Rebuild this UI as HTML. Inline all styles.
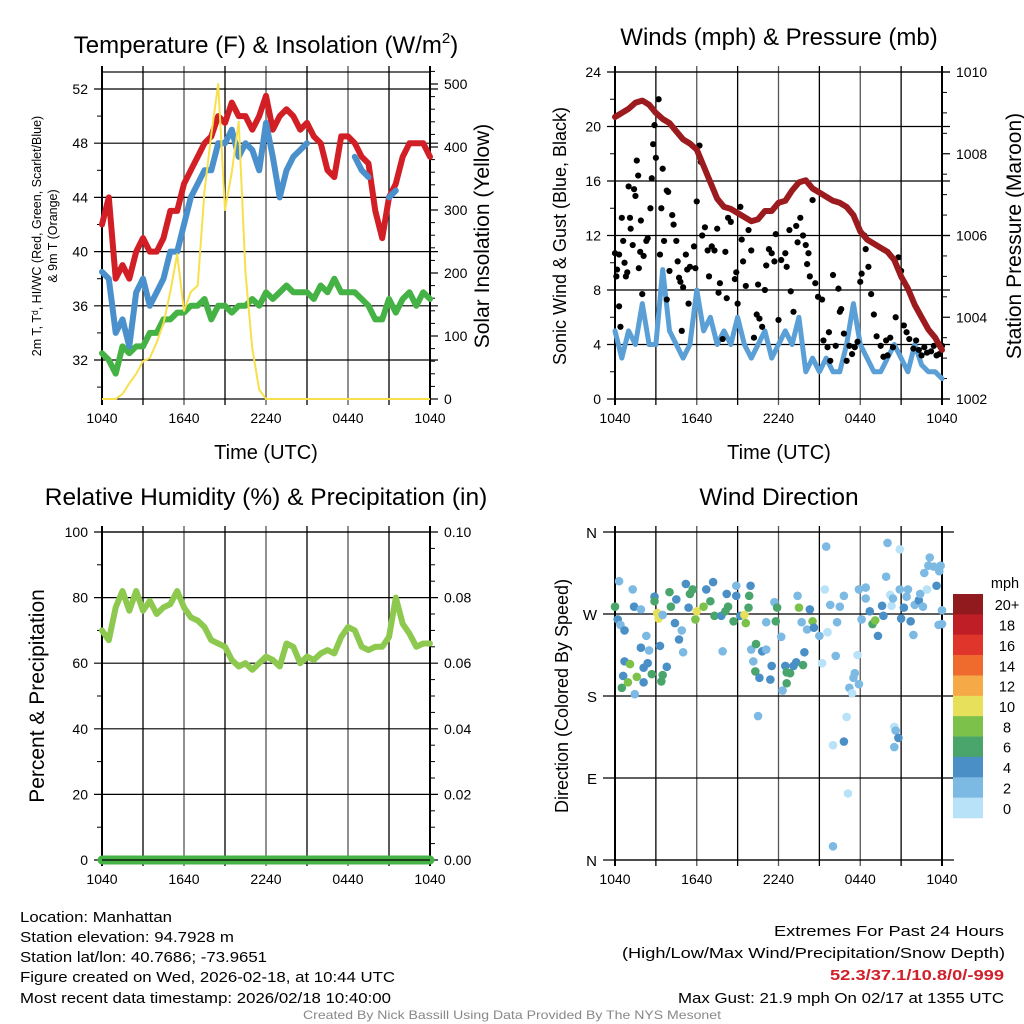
<!DOCTYPE html>
<html><head><meta charset="utf-8"><style>
html,body{margin:0;padding:0;background:#fff;}
svg{display:block;font-family:"Liberation Sans",sans-serif;}
</style></head><body>
<svg id="fig" width="1024" height="1024" viewBox="0 0 1024 1024" xmlns="http://www.w3.org/2000/svg">
<rect x="0" y="0" width="1024" height="1024" fill="#fff"/>
<g id="p1"></g>
<g id="p2"></g>
<g id="p3"></g>
<g id="p4"></g>
<g font-size="15" fill="#000">
<text x="20" y="922" textLength="152" lengthAdjust="spacingAndGlyphs">Location: Manhattan</text>
<text x="20" y="942" textLength="214" lengthAdjust="spacingAndGlyphs">Station elevation: 94.7928 m</text>
<text x="20" y="962" textLength="247" lengthAdjust="spacingAndGlyphs">Station lat/lon: 40.7686; -73.9651</text>
<text x="20" y="982" textLength="375" lengthAdjust="spacingAndGlyphs">Figure created on Wed, 2026-02-18, at 10:44 UTC</text>
<text x="20" y="1003" textLength="371" lengthAdjust="spacingAndGlyphs">Most recent data timestamp: 2026/02/18 10:40:00</text>
<text x="774" y="936" textLength="230" lengthAdjust="spacingAndGlyphs">Extremes For Past 24 Hours</text>
<text x="622" y="958" textLength="383" lengthAdjust="spacingAndGlyphs">(High/Low/Max Wind/Precipitation/Snow Depth)</text>
<text x="830" y="980" textLength="174" lengthAdjust="spacingAndGlyphs" fill="#d0202a" font-weight="bold">52.3/37.1/10.8/0/-999</text>
<text x="678" y="1003" textLength="326" lengthAdjust="spacingAndGlyphs">Max Gust: 21.9 mph On 02/17 at 1355 UTC</text>
<text x="303" y="1019" font-size="12" fill="#888" textLength="418" lengthAdjust="spacingAndGlyphs">Created By Nick Bassill Using Data Provided By The NYS Mesonet</text>
</g>
</svg>
<script>
// ---------- data ----------
var timeLabels = ["1040","1640","2240","0440","1040"];
var hours = [0,0.5,1,1.5,2,2.5,3,3.5,4,4.5,5,5.5,6,6.5,7,7.5,8,8.5,9,9.5,10,10.5,11,11.5,12,12.5,13,13.5,14,14.5,15,15.5,16,16.5,17,17.5,18,18.5,19,19.5,20,20.5,21,21.5,22,22.5,23,23.5,24];
var tempRed = [42,44,38,39,38,40,41,40,40,41,43,43,45,46,47,48,48.5,50,49.5,51,50,50,49,50,51.5,49,50,50.5,50,49,49.5,48.5,48,46,45.5,48.5,48.5,48,47,46.5,43,41,44,45,47,48,48,48,47];
var tempBlue = [38.5,38,34,35,33,37,38,36,37,38,40,40,42,44,45,46,46,48,48,49,47,48,47.5,46,49.5,47,44,46,47,47.5,48,null,null,null,null,null,null,47,46,45.5,null,null,44,44.5,null,null,null,null,null];
var tempGreen = [32.5,32,31,33,32.5,33,33,34,34,35,35,35.5,35.5,36,36,36.5,35,36,36,35.5,36,36,36.5,36,37,36.5,37,37.5,37,37,37,36.5,37.5,37,38,37,37,37,36.5,36,35,35,36.5,35.5,36.5,37,36,37,36.5];
var insolation = [0,0,0,8,25,40,60,65,90,120,170,230,140,170,180,330,420,500,300,360,440,200,80,15,0,0,0,0,0,0,0,0,0,0,0,0,0,0,0,0,0,0,0,0,0,0,0,0,0];
var windSpeed = [5,3,5,4,7,4,4,9.5,5,4,3,4,8,5,6,4,5,4,6,4,3,4,5,3,4,5,4,6,2,3,2,3,2,2,4,7,4,3,2,2,3,4,3,2,4,2.5,2,2,1.5];
var pressure = [1008.9,1009.0,1009.1,1009.25,1009.3,1009.2,1009.0,1008.85,1008.75,1008.55,1008.35,1008.25,1008.1,1007.7,1007.3,1006.9,1006.7,1006.65,1006.55,1006.45,1006.35,1006.4,1006.6,1006.6,1006.8,1006.85,1007.1,1007.3,1007.35,1007.15,1007.05,1006.95,1006.85,1006.8,1006.7,1006.5,1006.1,1005.9,1005.8,1005.7,1005.6,1005.4,1005.0,1004.7,1004.3,1004.0,1003.7,1003.5,1003.2];
var gustT = [0,0.1,0.15,0.3,0.3,0.4,0.5,0.6,0.7,0.8,0.9,1.0,1.1,1.15,1.3,1.4,1.5,1.6,1.7,1.75,1.9,1.85,2.0,2.1,2.3,2.4,2.6,2.7,2.8,2.9,3.0,3.2,3.3,3.4,3.5,3.6,3.8,3.9,3.8,4.0,4.2,4.3,4.5,4.6,4.7,4.8,4.9,5.0,5.2,5.3,5.4,5.5,5.8,5.9,6.0,6.2,6.3,6.4,6.6,6.8,6.9,7.1,7.3,7.5,7.6,7.7,7.9,8.1,8.2,8.3,8.5,8.8,8.9,9.0,9.2,9.3,9.4,9.6,9.8,10.0,10.2,10.4,10.5,10.6,10.8,11.0,11.1,11.3,11.5,11.7,11.8,12.0,12.2,12.5,12.6,12.8,12.9,13.1,13.3,13.4,13.6,13.8,14.0,14.1,14.2,14.3,14.5,14.7,14.9,15.2,15.3,15.6,15.7,15.8,16.0,16.2,16.4,16.5,16.6,16.8,17.0,17.2,17.4,17.6,17.8,18.0,18.1,18.3,18.4,18.6,18.8,19.0,19.2,19.5,19.7,19.9,20.0,20.2,20.4,20.6,20.8,21.0,21.2,21.4,21.6,21.9,22.1,22.3,22.5,22.7,22.9,23.2,23.4,23.6,23.8,24.0];
var gustV = [10.7,9,9.5,10.6,6.8,5.3,13.3,11.6,10,9,9.3,15.6,13.3,12.5,11.3,15.4,14.9,17.5,16.4,9.6,13.1,10.8,7.7,10.5,11.6,11.8,14,16.2,18.7,20.1,17.7,22,10.6,14,16.9,11.6,15.3,15.2,7.3,9.4,13.5,12.8,11.6,10.1,8.9,8.6,5,8.2,10.6,9.5,7,9.7,11.2,9.6,14.5,18.6,17.4,12,12.6,10.9,9,11.2,10.9,12.5,7.8,8.5,4.4,10.8,7.4,13.3,13,8.8,9.3,7,14.1,11.7,10.1,8.3,12.4,10.9,4.5,6.2,8.4,5.9,5.3,8,9.8,11,10.7,10.1,12.1,5.8,10.2,10.7,9.7,12.4,7.9,6.4,12.7,11.5,13.3,12,11.3,9.9,10.7,9,14.6,8.5,7.5,7.3,4.3,3.8,4.9,2.8,9.1,3.9,8.1,6.4,6.6,4.8,2.8,3.9,3.3,3.8,4.2,8.6,9.2,12,11,9.7,7.7,6.2,4.6,3.9,3.1,4.3,3.2,4.5,3.8,6,10.4,9.4,5.4,4.9,4.4,3.7,4.3,3.6,3.2,3.8,3.4,3.5,3.9,3.2,3.3,3.9];
var rh = [70,67,77,82,76,82,76,79,75,77,78,82,77,74,73,71,67,66,65,61,59,60,58,60,62,61,59,66,65,60,62,61,63,64,63,68,71,70,65,64,65,65,68,80,72,69,65,66,66];
var precip = [0,0,0,0,0,0,0,0,0,0,0,0,0,0,0,0,0,0,0,0,0,0,0,0,0,0,0,0,0,0,0,0,0,0,0,0,0,0,0,0,0,0,0,0,0,0,0,0,0];
var dirT = [0,0.3,0.2,0.4,0.7,0.7,0.6,0.5,1.1,0.95,1.6,1.45,1.3,1.4,1.9,1.9,2.1,2.3,2.4,2.1,2.5,2.7,2.9,2.9,3.1,3.2,3.3,3.4,3.5,3.8,3.5,4.0,4.1,4.4,4.5,4.7,4.9,5.0,5.2,5.5,5.7,5.4,5.9,6.0,6.5,6.7,7.0,7.2,7.3,7.9,7.8,8.1,8.3,8.2,8.7,8.9,8.9,9.2,9.5,9.6,9.85,9.95,9.8,10.0,10.35,10.3,10.15,10.6,10.5,10.8,11.1,11.4,11.5,11.1,11.7,11.9,11.8,12.2,12.3,12.5,12.6,12.6,12.85,13.1,13.3,13.8,13.9,13.4,13.5,13.7,14.1,14.3,14.5,14.6,15.0,15.2,15.5,15.4,15.6,15.8,16.2,16.3,16.0,16.5,16.8,16.8,17.0,17.1,16.0,17.2,17.4,17.5,17.6,17.8,17.9,17.9,18.1,18.4,18.4,18.7,18.9,19.1,19.3,19.6,19.7,20.0,19.9,20.2,20.3,20.4,20.5,20.6,20.8,20.5,20.9,20.9,21.0,21.2,21.4,21.5,21.7,21.9,22.0,22.3,22.4,22.6,22.7,22.9,23.0,23.1,23.4,23.6,23.75,23.8,23.9,24.0,23.75,24.0];
var dirDeg = [278,306,264,258,252,218,202,189,215,195,201,182,297,278,275,233,211,246,216,195,230,204,289,284,271,265,235,196,203,212,269,294,278,260,286,242,252,228,303,292,297,277,264,273,278,297,284,305,268,229,268,273,278,292,262,301,290,268,269,260,290,301,277,231,237,207,218,200,158,229,231,198,213,261,283,277,262,245,186,213,206,194,205,213,217,214,228,290,277,261,253,275,262,255,246,216,344,297,250,280,224,261,126,278,290,130,157,73,15,189,183,200,205,225,193,297,264,299,287,273,259,263,246,279,268,348,311,291,279,287,146,142,134,124,341,297,265,277,289,297,262,247,280,285,292,278,315,297,323,332,322,301,320,317,323,274,258,259];
var dirSpd = [6,2,4,3,4,4,4,6,8,8,8,2,2,4,2,4,4,2,4,4,2,6,4,6,10,10,4,6,6,4,2,6,6,4,4,4,2,2,4,6,6,4,8,10,8,4,6,4,6,2,4,6,6,4,6,2,4,4,10,8,6,4,6,2,6,6,2,4,2,4,2,4,4,2,2,6,6,2,2,4,6,6,6,4,4,6,4,2,8,2,2,4,8,4,2,1,2,1,1,2,2,2,1,2,2,4,1,1,2,2,1,2,2,1,2,2,2,2,2,4,6,8,4,4,4,2,2,1,1,2,1,2,4,2,1,2,4,4,2,2,4,2,2,4,2,2,2,1,2,2,2,4,2,2,2,2,2,2];
var speedBins = ["0","2","4","6","8","10","12","14","16","18","20+"];
var binColors = ["#b8e2f7","#7cb9e3","#4a8fc6","#4aa56c","#7cc24a","#e6e05a","#f6a947","#ef6a2d","#e0352b","#c01e27","#901a1e"];

var NS = "http://www.w3.org/2000/svg";
function mk(parent, tag, attrs, txt){
  var e = document.createElementNS(NS, tag);
  for (var k in attrs) e.setAttribute(k, attrs[k]);
  if (txt !== undefined) e.textContent = txt;
  parent.appendChild(e);
  return e;
}
function scale(d0,d1,r0,r1){ return function(v){ return r0 + (v-d0)/(d1-d0)*(r1-r0); }; }

function frame(g, L, R, T, B, tickX, xs){
  var el;
  for (var h=3; h<24; h+=3){
    el = mk(g,'line',{x1:xs(h),x2:xs(h),y1:T-6,y2:B+6,stroke:(h%6===0?'#555':'#000'),'stroke-width':1.3});
    
    
  }
  el = mk(g,'rect',{x:L,y:T,width:R-L,height:B-T,fill:'none',stroke:'#000','stroke-width':1.2});
  
  
  el = mk(g,'line',{x1:L,x2:L,y1:T-6,y2:B+6,stroke:'#000','stroke-width':2});
  
  
  el = mk(g,'line',{x1:R,x2:R,y1:T-6,y2:B+6,stroke:'#000','stroke-width':2});
  
  
  for (var i=0;i<timeLabels.length;i++){
    var x = xs(i*6);
    el = mk(g,'text',{x:x,y:B+24,'font-size':14,'text-anchor':'middle'},timeLabels[i]);
    
    
  }
}
function hline(g,L,R,y,ext){
  var el = mk(g,'line',{x1:L-ext,x2:R+ext,y1:y,y2:y,stroke:'#000','stroke-width':1.2});
  
  
}
function pathFrom(xsArr, ys, xs, yf){
  var d='', pen=false;
  for (var i=0;i<ys.length;i++){
    if (ys[i]===null){ pen=false; continue; }
    d += (pen?'L':'M') + xs(xsArr[i]).toFixed(1) + ',' + yf(ys[i]).toFixed(1);
    pen=true;
  }
  return d;
}
function txt(g, attrs, s, name){
  var el = mk(g,'text',attrs,s);
  
  
  return el;
}

// ---------- Panel 1 ----------
(function(){
  var g = document.getElementById('p1');
  var L=102,R=430,T=72,B=399;
  var xs = scale(0,24,L,R);
  var yT = scale(32,52,360,89);
  var yS = scale(0,500,399,84);
  frame(g,L,R,T,B,timeLabels,xs);
  for (var v=32; v<=52; v+=4){
    hline(g,L,R,yT(v),8);
    txt(g,{x:L-14,y:yT(v)+5,'font-size':14,'text-anchor':'end'},String(v),'left-tick-label');
  }
  for (var v2=30; v2<=53; v2+=2){ if (v2%4!==0){ var e=mk(g,'line',{x1:L-5,x2:L,y1:yT(v2),y2:yT(v2),stroke:'#000'});   } }
  for (var s=0; s<=500; s+=100){
    var e2=mk(g,'line',{x1:R,x2:R+8,y1:yS(s),y2:yS(s),stroke:'#000','stroke-width':1.2});
    
    
    txt(g,{x:R+14,y:yS(s)+5,'font-size':14},String(s),'right-tick-label');
  }
  for (var s2=20; s2<=520; s2+=20){ if (s2%100!==0){ var e3=mk(g,'line',{x1:R,x2:R+5,y1:yS(s2),y2:yS(s2),stroke:'#000'});   } }
  var el;
  el = mk(g,'path',{d:pathFrom(hours,tempGreen,xs,yT),fill:'none',stroke:'#44b244','stroke-width':6,'stroke-linejoin':'round','stroke-linecap':'round'});
  
  
  el = mk(g,'path',{d:pathFrom(hours,tempRed,xs,yT),fill:'none',stroke:'#d21f26','stroke-width':6,'stroke-linejoin':'round','stroke-linecap':'round'});
  
  
  el = mk(g,'path',{d:pathFrom(hours,tempBlue,xs,yT),fill:'none',stroke:'#4a90cc','stroke-width':6,'stroke-linejoin':'round','stroke-linecap':'round'});
  
  
  el = mk(g,'path',{d:pathFrom(hours,insolation,xs,yS),fill:'none',stroke:'#f7e04b','stroke-width':2,'stroke-linejoin':'round'});
  
  
  var t = txt(g,{x:266,y:53,'font-size':24,'text-anchor':'middle'},'Temperature (F) & Insolation (W/m','panel-title');
  var sup = mk(t,'tspan',{'font-size':15,dy:-10},'2');
  
  
  var close = mk(t,'tspan',{dy:10},')');
  
  
  txt(g,{x:266,y:459,'font-size':20,'text-anchor':'middle'},'Time (UTC)','x-axis-title');
  txt(g,{x:0,y:0,'font-size':12.5,'text-anchor':'middle',transform:'translate(41,236) rotate(-90)'},'2m T, T\u1d48, HI/WC (Red, Green, Scarlet/Blue)','left-axis-title');
  txt(g,{x:0,y:0,'font-size':12.5,'text-anchor':'middle',transform:'translate(57,236) rotate(-90)'},'& 9m T (Orange)','left-axis-title-line2');
  txt(g,{x:0,y:0,'font-size':21,'text-anchor':'middle',transform:'translate(489,236) rotate(-90)'},'Solar Insolation (Yellow)','right-axis-title');
})();

// ---------- Panel 2 ----------
(function(){
  var g = document.getElementById('p2');
  var L=615,R=942,T=72,B=399;
  var xs = scale(0,24,L,R);
  var yW = scale(0,24,399,72);
  var yP = scale(1002,1010,399,72);
  frame(g,L,R,T,B,timeLabels,xs);
  for (var v=0; v<=24; v+=4){
    hline(g,L,R,yW(v),8);
    txt(g,{x:L-14,y:yW(v)+5,'font-size':14,'text-anchor':'end'},String(v),'left-tick-label');
  }
  for (var v2=2; v2<=24; v2+=4){ var e=mk(g,'line',{x1:L-5,x2:L,y1:yW(v2),y2:yW(v2),stroke:'#000'});   }
  for (var p=1002; p<=1010; p+=2){
    var e2=mk(g,'line',{x1:R,x2:R+8,y1:yP(p),y2:yP(p),stroke:'#000','stroke-width':1.2});
    
    
    txt(g,{x:R+14,y:yP(p)+5,'font-size':14},String(p),'right-tick-label');
  }
  for (var p2=1002.5; p2<1010; p2+=0.5){ if (p2%2!==0){ var e3=mk(g,'line',{x1:R,x2:R+5,y1:yP(p2),y2:yP(p2),stroke:'#000'});   } }
  var el = mk(g,'path',{d:pathFrom(hours,windSpeed,xs,yW),fill:'none',stroke:'#5a9fd6','stroke-width':5,'stroke-linejoin':'round','stroke-linecap':'round'});
  
  
  for (var i=0;i<gustT.length;i++){
    var c = mk(g,'circle',{cx:xs(gustT[i]),cy:yW(gustV[i]),r:3.1,fill:'#000'});
    
    
  }
  el = mk(g,'path',{d:pathFrom(hours,pressure,xs,yP),fill:'none',stroke:'#9b1b1e','stroke-width':6,'stroke-linejoin':'round','stroke-linecap':'round'});
  
  
  txt(g,{x:779,y:45,'font-size':24,'text-anchor':'middle'},'Winds (mph) & Pressure (mb)','panel-title');
  txt(g,{x:779,y:459,'font-size':20,'text-anchor':'middle'},'Time (UTC)','x-axis-title');
  txt(g,{x:0,y:0,'font-size':18,'text-anchor':'middle',transform:'translate(566,236) rotate(-90)'},'Sonic Wind & Gust (Blue, Black)','left-axis-title');
  txt(g,{x:0,y:0,'font-size':21,'text-anchor':'middle',transform:'translate(1021,236) rotate(-90)'},'Station Pressure (Maroon)','right-axis-title');
})();

// ---------- Panel 3 ----------
(function(){
  var g = document.getElementById('p3');
  var L=102,R=430,T=532,B=860;
  var xs = scale(0,24,L,R);
  var yR = scale(0,100,860,532);
  var yQ = scale(0,0.1,860,532);
  frame(g,L,R,T,B,timeLabels,xs);
  for (var v=0; v<=100; v+=20){
    hline(g,L,R,yR(v),8);
    txt(g,{x:L-14,y:yR(v)+5,'font-size':14,'text-anchor':'end'},String(v),'left-tick-label');
    txt(g,{x:R+14,y:yR(v)+5,'font-size':14},(v/1000).toFixed(2),'right-tick-label');
  }
  for (var v2=10; v2<100; v2+=20){ var e=mk(g,'line',{x1:L-5,x2:L,y1:yR(v2),y2:yR(v2),stroke:'#000'});   }
  for (var v3=5; v3<100; v3+=5){ if (v3%20!==0){ var e3=mk(g,'line',{x1:R,x2:R+5,y1:yR(v3),y2:yR(v3),stroke:'#000'});   } }
  var el = mk(g,'path',{d:pathFrom(hours,precip,xs,yQ),fill:'none',stroke:'#44b244','stroke-width':9,'stroke-linecap':'round'});
  
  
  el = mk(g,'line',{x1:L,x2:R,y1:B,y2:B,stroke:'#000','stroke-width':1.2});
  
  
  el = mk(g,'path',{d:pathFrom(hours,rh,xs,yR),fill:'none',stroke:'#8dc94e','stroke-width':6,'stroke-linejoin':'round','stroke-linecap':'round'});
  
  
  txt(g,{x:266,y:505,'font-size':24.5,'text-anchor':'middle'},'Relative Humidity (%) & Precipitation (in)','panel-title');
  txt(g,{x:0,y:0,'font-size':21,'text-anchor':'middle',transform:'translate(44,696) rotate(-90)'},'Percent & Precipitation','left-axis-title');
})();

// ---------- Panel 4 ----------
(function(){
  var g = document.getElementById('p4');
  var L=615,R=942,T=532,B=860;
  var xs = scale(0,24,L,R);
  var yD = scale(0,360,860,532);
  frame(g,L,R,T,B,timeLabels,xs);
  var dirLabels = ["N","E","S","W","N"];
  for (var i=0;i<5;i++){
    hline(g,L,R,yD(i*90),12);
    txt(g,{x:L-18,y:yD(i*90)+6,'font-size':15,'text-anchor':'end'},dirLabels[i],'direction-tick-label');
  }
  for (var j=0;j<dirT.length;j++){
    var bin = Math.min(10, Math.floor(dirSpd[j]/2));
    var c = mk(g,'circle',{cx:xs(dirT[j]),cy:yD(dirDeg[j]),r:4.3,fill:binColors[bin]});
    
    
  }
  var cbTop=594, cbH=(818-594)/11;
  for (var k=0;k<11;k++){
    var idx = 10-k;
    var r = mk(g,'rect',{x:953,y:cbTop+k*cbH,width:30,height:cbH+0.3,fill:binColors[idx]});
    
    
    txt(g,{x:1007,y:cbTop+k*cbH+cbH/2+6,'font-size':14.5,'text-anchor':'middle'},speedBins[idx],'colorbar-label');
  }
  txt(g,{x:1005,y:588,'font-size':14.5,'text-anchor':'middle'},'mph','colorbar-title');
  txt(g,{x:779,y:505,'font-size':24.5,'text-anchor':'middle'},'Wind Direction','panel-title');
  txt(g,{x:0,y:0,'font-size':18,'text-anchor':'middle',transform:'translate(568,696) rotate(-90)'},'Direction (Colored By Speed)','left-axis-title');
})();
</script>
</body></html>
